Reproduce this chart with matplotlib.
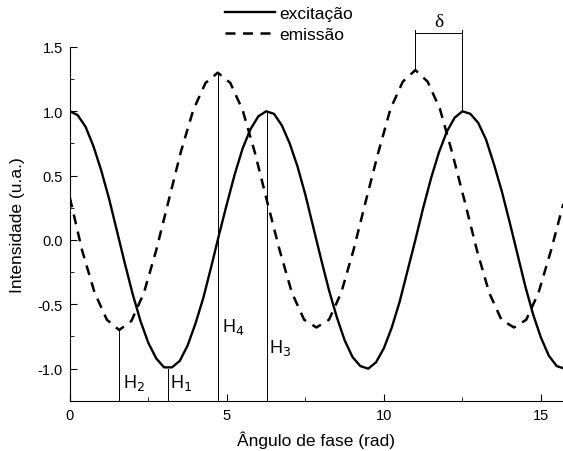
import matplotlib
matplotlib.use("Agg")
import matplotlib.pyplot as plt
from matplotlib.ticker import MultipleLocator, FormatStrFormatter

plt.rcParams["font.family"] = ["Liberation Sans", "DejaVu Sans"]
plt.rcParams["axes.unicode_minus"] = False

# excitation curve (step 0.25 rad)
exc_x = [0.0, 0.25, 0.5, 0.75, 1.0, 1.25, 1.5, 1.75, 2.0, 2.25, 2.5, 2.75,
         3.0, 3.25, 3.5, 3.75, 4.0, 4.25, 4.5, 4.75, 5.0, 5.25, 5.5, 5.75,
         6.0, 6.25, 6.5, 6.75, 7.0, 7.25, 7.5, 7.75, 8.0, 8.25, 8.5, 8.75,
         9.0, 9.25, 9.5, 9.75, 10.0, 10.25, 10.5, 10.75, 11.0, 11.25, 11.5,
         11.75, 12.0, 12.25, 12.5, 12.75, 13.0, 13.25, 13.5, 13.75, 14.0,
         14.25, 14.5, 14.75, 15.0, 15.25, 15.5, 15.75]
exc_y = [1.00, 0.97, 0.88, 0.73, 0.54, 0.32, 0.07, -0.18, -0.42, -0.63,
         -0.80, -0.92, -0.99, -0.99, -0.94, -0.82, -0.65, -0.45, -0.21, 0.04,
         0.28, 0.51, 0.71, 0.86, 0.96, 1.00, 0.98, 0.89, 0.75, 0.57, 0.35,
         0.10, -0.15, -0.39, -0.60, -0.78, -0.91, -0.98, -1.00, -0.95, -0.84,
         -0.68, -0.48, -0.24, 0.00, 0.25, 0.48, 0.68, 0.84, 0.95, 1.00, 0.98,
         0.91, 0.78, 0.59, 0.38, 0.14, -0.11, -0.36, -0.58, -0.76, -0.90,
         -0.98, -1.00]

# emission curve, coarser sampling (corners at extremes)
emi_x = [0.0, 0.39, 0.79, 1.18, 1.57, 1.96, 2.36, 2.75, 3.14, 3.53, 3.93,
         4.32, 4.71, 5.11, 5.50, 5.89, 6.28, 6.68, 7.07, 7.46, 7.85, 8.25,
         8.64, 9.03, 9.42, 9.82, 10.21, 10.60, 11.00, 11.39, 11.78, 12.17,
         12.57, 12.96, 13.35, 13.74, 14.14, 14.53, 14.92, 15.32, 15.71]
emi_y = [0.33, -0.08, -0.41, -0.62, -0.70, -0.63, -0.41, -0.08, 0.30, 0.68,
         1.01, 1.22, 1.30, 1.22, 1.01, 0.68, 0.30, -0.08, -0.41, -0.62,
         -0.68, -0.62, -0.41, -0.08, 0.30, 0.68, 1.02, 1.23, 1.32, 1.23,
         1.02, 0.68, 0.30, -0.08, -0.41, -0.62, -0.68, -0.62, -0.41, -0.08,
         0.28]

# marker lines: x, top of line, label, label position
h_x = [1.57, 3.14, 4.71, 6.28]
h_top = [-0.70, -1.00, 1.30, 1.00]
h_labels = ["H$_2$", "H$_1$", "H$_4$", "H$_3$"]
h_lab_x = [1.70, 3.20, 4.85, 6.35]
h_lab_y = [-1.10, -1.10, -0.67, -0.83]

# delta bracket
d_x = [11.00, 12.50]
d_bottom = [1.33, 1.02]
d_top = 1.63

ymin, ymax = -1.25, 1.5

fig = plt.figure(figsize=(5.63, 4.52), dpi=100)
ax = fig.add_axes([0.124, 0.111, 0.876, 0.783])

ax.plot(exc_x, exc_y, color="black", lw=1.7, label="excitação")
ax.plot(emi_x, emi_y, color="black", lw=1.8, dashes=(4, 3), label="emissão")

for x, top, lab, lx, ly in zip(h_x, h_top, h_labels, h_lab_x, h_lab_y):
    ax.plot([x, x], [ymin, top], color="black", lw=0.7)
    ax.text(lx, ly, lab, fontsize=13, ha="left", va="center")

for x, b in zip(d_x, d_bottom):
    ax.plot([x, x], [b, d_top], color="black", lw=0.7, clip_on=False)
ax.plot(d_x, [d_top - 0.02, d_top - 0.02], color="black", lw=0.7, clip_on=False)
ax.text(sum(d_x) / 2, d_top, "δ", fontsize=14, ha="center", va="bottom",
        family=["Liberation Serif", "DejaVu Serif"])

ax.set_xlim(0, 15.7)
ax.set_ylim(ymin, ymax)
ax.spines["top"].set_visible(False)
ax.spines["right"].set_visible(False)
ax.spines["left"].set_bounds(ymin, ymax)

ax.xaxis.set_major_locator(MultipleLocator(5))
ax.xaxis.set_minor_locator(MultipleLocator(2.5))
ax.yaxis.set_major_locator(MultipleLocator(0.5))
ax.yaxis.set_minor_locator(MultipleLocator(0.25))
ax.yaxis.set_major_formatter(FormatStrFormatter("%.1f"))
ax.tick_params(which="both", direction="in", labelsize=10.5)
ax.tick_params(which="major", length=5, pad=5)
ax.tick_params(which="minor", length=3)

ax.set_xlabel("Ângulo de fase (rad)", fontsize=12.5, labelpad=6)
ax.set_ylabel("Intensidade (u.a.)", fontsize=12.5, labelpad=9)

ax.legend(loc="upper left", bbox_to_anchor=(0.378, 1.012), bbox_transform=fig.transFigure,
          frameon=False, fontsize=12.5, handlelength=2.9, handletextpad=0.25,
          labelspacing=0.35, borderpad=0.2)

fig.savefig("out.png", dpi=100)
